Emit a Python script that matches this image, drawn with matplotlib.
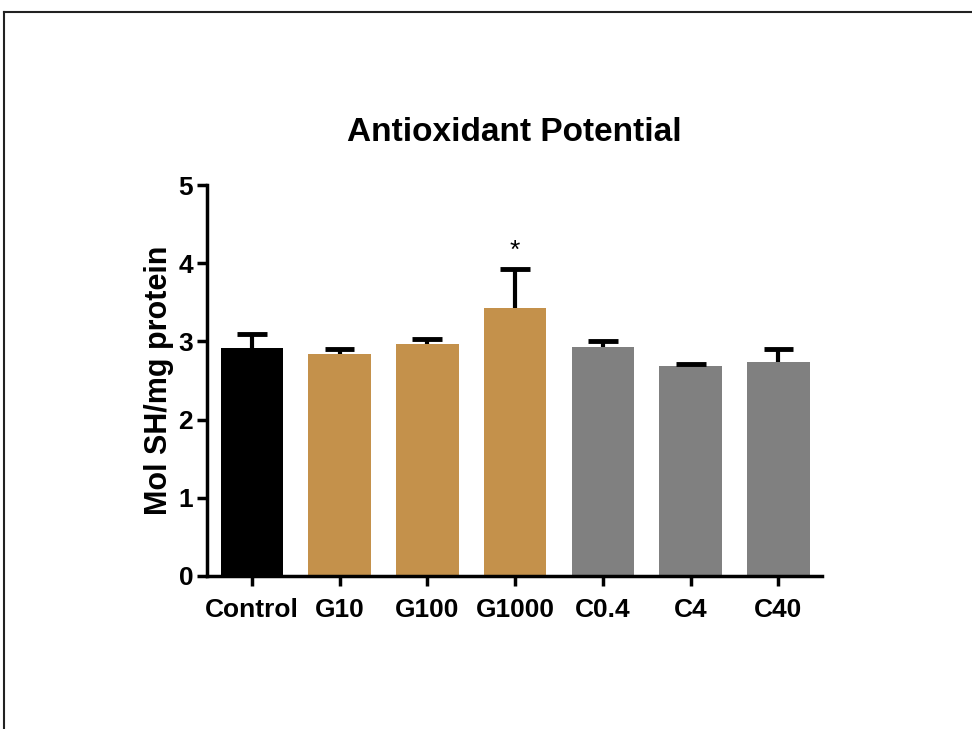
import matplotlib
matplotlib.use("Agg")
import matplotlib.pyplot as plt
from matplotlib.lines import Line2D
import numpy as np

# data
groups = ['Control', 'G10', 'G100', 'G1000', 'C0.4', 'C4', 'C40']
means = [2.92, 2.84, 2.97, 3.43, 2.93, 2.69, 2.74]
sem = [0.17, 0.06, 0.06, 0.50, 0.07, 0.02, 0.16]
bar_colors = ['#000000', '#C4914B', '#C4914B', '#C4914B', '#808080', '#808080', '#808080']
signif = ['', '', '', '*', '', '', '']

plt.rcParams['font.family'] = ['Liberation Sans', 'DejaVu Sans']
plt.rcParams['font.weight'] = 'bold'

fig = plt.figure(figsize=(9.72, 7.29), dpi=100)
ax = fig.add_axes([0.213, 0.21, 0.633, 0.536])

x = np.arange(len(groups))
tops = np.array(means) + np.array(sem)
ax.bar(x, means, width=0.71, color=bar_colors, zorder=2)
# upper error bars only
ax.vlines(x, means, tops, color='black', linewidth=3, zorder=3)
ax.hlines(tops, x - 0.17, x + 0.17, color='black', linewidth=3.5, zorder=3)
for i, s in enumerate(signif):
    if s:
        ax.text(i, tops[i] + 0.08, s, ha='center', va='bottom', fontsize=19, fontweight='normal')

ax.set_xlim(-0.51, 6.5)
ax.set_ylim(0, 5)
ax.set_yticks([0, 1, 2, 3, 4, 5])
ax.set_xticks(x)
ax.set_xticklabels(groups)
ax.tick_params(axis='both', labelsize=19, width=2.5, length=7, direction='out')
ax.tick_params(axis='x', pad=9)
ax.tick_params(axis='y', pad=3)
for sp in ['top', 'right']:
    ax.spines[sp].set_visible(False)
for sp in ['left', 'bottom']:
    ax.spines[sp].set_linewidth(2.5)

ax.set_ylabel('Mol SH/mg protein', fontsize=22, fontweight='bold', labelpad=3)
ax.set_title('Antioxidant Potential', fontsize=24, fontweight='bold', pad=32)

# outer frame (top and left edges visible)
fig.add_artist(Line2D([4 / 972, 1.0], [1 - 12 / 729, 1 - 12 / 729], transform=fig.transFigure,
                      color='#222222', linewidth=1.5))
fig.add_artist(Line2D([4 / 972, 4 / 972], [0.0, 1 - 12 / 729], transform=fig.transFigure,
                      color='#222222', linewidth=1.5))

fig.savefig('out.png', dpi=100)
